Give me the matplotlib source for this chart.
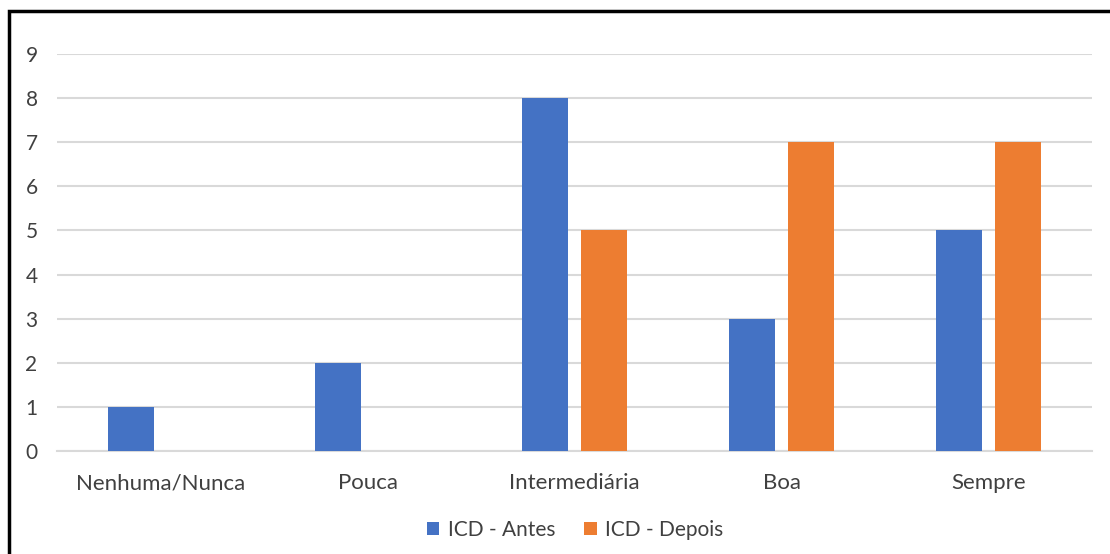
import matplotlib.pyplot as plt
import matplotlib.patches as patches
import numpy as np

categorias = ["Nenhuma/Nunca", "Pouca", "Intermediária", "Boa", "Sempre"]
antes = [1, 2, 8, 3, 5]
depois = [0, 0, 5, 7, 7]
serie_antes = "ICD - Antes"
serie_depois = "ICD - Depois"

plt.rcParams["font.family"] = ["Lato", "DejaVu Sans"]

fig = plt.figure(figsize=(11.1, 5.54), dpi=100)
ax = fig.add_axes([0.0514, 0.186, 0.9324, 0.7166])

x = np.arange(len(categorias))
largura = 0.222
desloc = 0.1435
ax.bar(x - desloc, antes, largura, color="#4472C4", label=serie_antes, zorder=3)
ax.bar(x + desloc, depois, largura, color="#ED7D31", label=serie_depois, zorder=3)

ax.set_xlim(-0.5, len(categorias) - 0.5)
ax.set_ylim(0, 9)
ax.set_yticks(range(0, 10))
ax.set_xticks(x)
ax.set_xticklabels(categorias)
ax.grid(axis="y", color="#d9d9d9", linewidth=1.5, zorder=0)
for lado in ["top", "right", "left"]:
    ax.spines[lado].set_visible(False)
ax.spines["bottom"].set_color("#d9d9d9")
ax.spines["bottom"].set_linewidth(1.5)
ax.tick_params(axis="both", length=0, labelsize=16, colors="#404040")
ax.tick_params(axis="x", pad=16)
ax.tick_params(axis="y", pad=14)
for rotulo in ax.get_yticklabels():
    rotulo.set_fontsize(15)

fig.legend(loc="center", bbox_to_anchor=(0.518, 0.043), ncol=2, frameon=False,
           fontsize=15, handlelength=0.6, handleheight=0.6, handletextpad=0.4,
           columnspacing=1.4, labelcolor="#404040")

# moldura em volta do gráfico
fig.patches.append(patches.Rectangle((9 / 1110, -0.1), 1.2, 0.1 + (554 - 11) / 554,
                                     transform=fig.transFigure, fill=False,
                                     edgecolor="black", linewidth=2.5))

fig.savefig("out.png", dpi=100)
